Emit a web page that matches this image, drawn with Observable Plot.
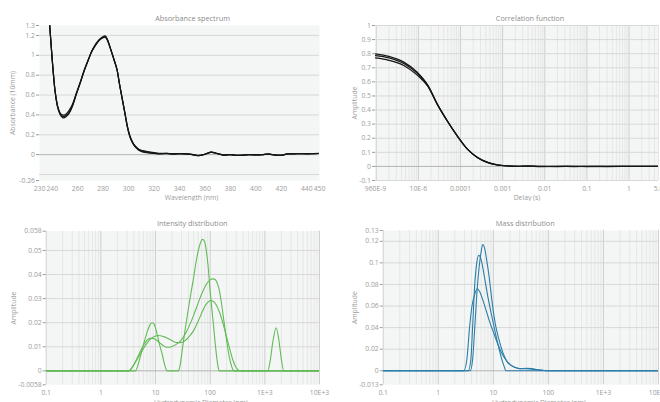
<!DOCTYPE html>
<html><head><meta charset="utf-8">
<script src="https://cdn.jsdelivr.net/npm/d3@7"></script>
<script src="https://cdn.jsdelivr.net/npm/@observablehq/plot@0.6"></script>
<style>
body{margin:0;background:#fff;}
#wrap{position:relative;width:660px;height:402px;overflow:hidden;background:#fff;}
#wrap > div{position:absolute;}
</style></head><body><div id="wrap"></div>
<script>
// ---------- Absorbance spectrum ----------
const absWavelength = [238,240,242,244,246,248,249,251,253,256,259,262,265,268,271,274,277,280,281.5,283,286,289,291,293,295,297,299,301,303,305,308,311,315,320,325,330,335,340,345,350,355,360,365,370,375,380,385,390,395,400,405,410,415,420,425,430,435,440,445,450];
const absScan1 = [1.30,0.95,0.66,0.49,0.41,0.375,0.37,0.385,0.41,0.49,0.61,0.72,0.84,0.94,1.04,1.11,1.16,1.19,1.195,1.17,1.06,0.94,0.85,0.70,0.56,0.42,0.28,0.18,0.12,0.08,0.045,0.028,0.018,0.012,0.008,0.011,0.006,0.010,0.007,0.0,-0.010,0.004,0.025,0.010,-0.004,0.0,-0.008,-0.005,0.0,-0.003,0.0,0.006,-0.004,-0.006,0.008,0.008,0.010,0.008,0.010,0.012];
const absScan2 = [1.30,0.96,0.67,0.50,0.425,0.40,0.398,0.41,0.44,0.51,0.62,0.73,0.845,0.945,1.035,1.10,1.15,1.178,1.183,1.16,1.055,0.935,0.85,0.70,0.565,0.43,0.29,0.19,0.13,0.09,0.055,0.04,0.03,0.02,0.012,0.013,0.008,0.011,0.008,0.002,-0.008,0.005,0.026,0.011,-0.003,0.001,-0.007,-0.004,0.001,-0.002,0.001,0.007,-0.003,-0.005,0.009,0.009,0.011,0.009,0.011,0.013];
const absScan3 = [1.30,0.955,0.665,0.495,0.415,0.385,0.382,0.395,0.42,0.50,0.615,0.725,0.842,0.942,1.038,1.105,1.155,1.185,1.19,1.165,1.058,0.938,0.85,0.70,0.562,0.425,0.285,0.185,0.125,0.085,0.05,0.034,0.024,0.016,0.010,0.012,0.007,0.010,0.007,0.001,-0.009,0.004,0.024,0.010,-0.004,0.0,-0.008,-0.005,0.0,-0.003,0.0,0.006,-0.004,-0.006,0.008,0.008,0.010,0.008,0.010,0.012];
const absYTicks = [-0.26,0,0.2,0.4,0.6,0.8,1,1.2,1.3];
const absYGrid = [-0.2,0,0.2,0.4,0.6,0.8,1,1.2];
const absXTicks = [230,240,260,280,300,320,340,360,380,400,420,440,450];
const absXLabels = ["230","240","260","280","300","320","340","360","380","400","420","440","450"];

// ---------- Correlation function ----------
const corrDelay = [9.6e-7,2e-6,4.5e-6,9.4e-6,1.7e-5,2.8e-5,4.8e-5,8.3e-5,1.44e-4,2.5e-4,4.3e-4,7.4e-4,1.3e-3,2.5e-3,4e-3,8e-3,0.02,0.05,0.1,0.3,1,5];
const corrRun1 = [0.799,0.781,0.740,0.668,0.574,0.444,0.326,0.219,0.125,0.065,0.030,0.011,0.004,0.001,0.003,0.0,0.001,-0.001,0.0,0.001,0.0,0.0];
const corrRun2 = [0.786,0.770,0.730,0.660,0.570,0.443,0.325,0.218,0.124,0.064,0.029,0.011,0.003,0.0,0.002,-0.001,0.0,0.0,-0.001,0.0,0.001,0.0];
const corrRun3 = [0.770,0.753,0.716,0.648,0.566,0.440,0.324,0.217,0.124,0.064,0.029,0.010,0.003,0.001,0.002,0.0,-0.001,0.001,0.0,-0.001,0.0,0.0];
const corrYTicks = [-0.1,0,0.1,0.2,0.3,0.4,0.5,0.6,0.7,0.8,0.9,1];
const corrXTicks = [9.6e-7,1e-5,1e-4,1e-3,0.01,0.1,1,5];
const corrXLabels = ["960E-9","10E-6","0.0001","0.001","0.01","0.1","1","5.0"];

// ---------- Intensity distribution ----------
const intDiamA = [0.1,4.3,5,5.5,6,7,8,8.7,9.5,10.5,12,13.2,14.5,16.3,26,28,31,35,40,45,50,55,60,66,72,78,85,92,100,108,116,124,132,140,146,1130,1250,1400,1610,1800,2000,2220,10000];
const intA = [0,0,0.004,0.0075,0.0108,0.016,0.0193,0.020,0.0193,0.016,0.0105,0.007,0.003,0,0,0.002,0.009,0.0175,0.026,0.033,0.039,0.045,0.0495,0.053,0.0546,0.054,0.050,0.043,0.033,0.025,0.018,0.011,0.0055,0.0015,0,0,0.004,0.012,0.0179,0.013,0.005,0,0];
const intDiamB = [0.1,3.3,4,5,6,7,8,9,10,12,14,16,18,21,25,30,36,43,50,60,70,80,90,100,110,120,130,145,160,180,200,225,250,270,10000];
const intB = [0,0,0.0025,0.007,0.0105,0.0128,0.0135,0.0134,0.013,0.0116,0.0104,0.0098,0.0098,0.0103,0.0113,0.013,0.0158,0.0195,0.0232,0.028,0.032,0.0348,0.0368,0.0378,0.0382,0.0381,0.0372,0.034,0.0285,0.020,0.0125,0.0055,0.0015,0,0];
const intDiamC = [0.1,3.2,4,5,6,7,8,9,10,11.5,13,15,18,21,25,30,36,43,50,60,70,80,90,101,115,130,150,175,200,230,260,300,330,360,10000];
const intC = [0,0,0.0025,0.0062,0.0092,0.0115,0.0131,0.014,0.0145,0.0147,0.0145,0.014,0.0131,0.0123,0.0117,0.0118,0.0128,0.0147,0.0168,0.0205,0.024,0.0268,0.0284,0.0292,0.0288,0.0272,0.024,0.019,0.014,0.0088,0.0045,0.0013,0.0003,0,0];
const intYTicks = [-0.0058,0,0.01,0.02,0.03,0.04,0.05,0.058];
const intYGrid = [0,0.01,0.02,0.03,0.04,0.05];

// ---------- Mass distribution ----------
const massDiamA = [0.1,3.8,4.2,4.6,5,5.5,6,6.4,7,7.5,8.3,9,10,11,12.5,14,16,18,21,25,30,40,50,60,80,100,10000];
const massA = [0,0,0.01,0.04,0.07,0.095,0.11,0.117,0.113,0.104,0.089,0.074,0.055,0.042,0.030,0.021,0.013,0.008,0.005,0.003,0.002,0.002,0.0015,0.001,0.0003,0,0];
const massDiamB = [0.1,3.5,3.9,4.2,4.6,5,5.45,6,7,8,9,10,11,12.5,14,15.5,17,10000];
const massB = [0,0,0.01,0.04,0.08,0.10,0.107,0.103,0.085,0.068,0.055,0.044,0.034,0.022,0.012,0.005,0,0];
const massDiamC = [0.1,2.9,3.3,3.7,4.1,4.6,5.1,5.7,6.5,7.5,8.5,10,12,14,17,20,25,30,40,50,60,80,100,10000];
const massC = [0,0,0.01,0.04,0.06,0.071,0.076,0.073,0.065,0.055,0.046,0.036,0.025,0.017,0.010,0.006,0.003,0.002,0.0022,0.002,0.0012,0.0004,0,0];
const massYTicks = [-0.013,0,0.02,0.04,0.06,0.08,0.1,0.12,0.13];
const massYGrid = [0,0.02,0.04,0.06,0.08,0.1,0.12];

const sizeXTicks = [0.1,1,10,100,1000,10000];
const sizeXLabels = ["0.1","1","10","100","1E+3","10E+3"];

// ---------- styling ----------
const BG = "#f4f5f5", GRID = "#d8d8d8", ZERO = "#b4b4b4", MINOR = "#e6e6e6", MAJOR = "#cfcfcf", TXT = "#9c9c9c", TITLE = "#8c8c8c";
const fmt = d => String(d);

function rows(xs, ys, series) { return xs.map((x, i) => ({x, y: ys[i], s: series})); }

function panel(o) {
  const marks = [Plot.frame({fill: BG, stroke: null})];
  if (o.xType === "log") {
    const all = d3.scaleLog().domain(o.xDomain).ticks();
    const major = all.filter(v => Math.abs(Math.log10(v) - Math.round(Math.log10(v))) < 1e-9);
    const minor = all.filter(v => !major.includes(v));
    marks.push(Plot.ruleX(minor, {stroke: MINOR, strokeWidth: 1}));
    marks.push(Plot.ruleX(major, {stroke: MAJOR, strokeWidth: 1}));
  }
  marks.push(Plot.ruleY(o.yGrid.filter(v => v !== 0), {stroke: GRID}));
  marks.push(Plot.ruleY([0], {stroke: ZERO}));
  marks.push(Plot.axisY(o.yTicks, {tickSize: 3, tickPadding: 1.5, tickFormat: fmt, color: TXT, label: null}));
  const xTickRows = o.xTicks.map((t, i) => ({t, label: o.xLabels[i]}));
  marks.push(Plot.text(xTickRows, {x: "t", text: "label", frameAnchor: "bottom", dy: 8.3, textAnchor: "middle", lineAnchor: "middle", fill: TXT, fontSize: 6.8}));
  for (const s of o.series) {
    marks.push(Plot.line(s, {x: "x", y: "y", stroke: o.stroke, strokeWidth: o.strokeWidth, curve: "monotone-x", clip: true}));
  }
  marks.push(Plot.text([o.title], {frameAnchor: "top", dx: o.titleDx, dy: o.titleDy, textAnchor: "middle", lineAnchor: "middle", fill: TITLE, fontSize: 7.3}));
  marks.push(Plot.text([o.xTitle], {frameAnchor: "bottom", dx: o.xTitleDx, dy: o.xTitleDy, textAnchor: "middle", lineAnchor: "middle", fill: TXT, fontSize: 6.8}));
  marks.push(Plot.text([o.yTitle], {frameAnchor: "left", dx: o.yTitleDx, rotate: -90, textAnchor: "middle", lineAnchor: "middle", fill: TXT, fontSize: 6.8}));
  const svg = Plot.plot({
    width: o.width, height: o.height,
    marginLeft: o.m[0], marginRight: o.m[1], marginTop: o.m[2], marginBottom: o.m[3],
    x: {type: o.xType, domain: o.xDomain, axis: null},
    y: {domain: o.yDomain},
    style: {fontFamily: "'Open Sans', sans-serif", fontSize: "6.8px", background: "transparent", color: TXT, maxWidth: "none"},
    marks
  });
  const div = document.createElement("div");
  div.style.left = o.left + "px"; div.style.top = o.top + "px";
  div.appendChild(svg);
  document.getElementById("wrap").appendChild(div);
}

panel({
  left: 0, top: 0, width: 330, height: 201, m: [39, 11, 25, 21],
  xType: "linear", xDomain: [230, 450], yDomain: [-0.26, 1.3],
  yTicks: absYTicks, yGrid: absYGrid, xTicks: absXTicks, xLabels: absXLabels,
  series: [rows(absWavelength, absScan2, 2), rows(absWavelength, absScan3, 3), rows(absWavelength, absScan1, 1)],
  stroke: "#151515", strokeWidth: 1.2,
  title: "Absorbance spectrum", titleDx: 13, titleDy: -6.7,
  xTitle: "Wavelength (nm)", xTitleDx: 12, xTitleDy: 17,
  yTitle: "Absorbance (10mm)", yTitleDx: -26.7
});

panel({
  left: 330, top: 0, width: 345, height: 201, m: [45, 17, 25, 21],
  xType: "log", xDomain: [9.6e-7, 5], yDomain: [-0.1, 1],
  yTicks: corrYTicks, yGrid: corrYTicks, xTicks: corrXTicks, xLabels: corrXLabels,
  series: [rows(corrDelay, corrRun1, 1), rows(corrDelay, corrRun2, 2), rows(corrDelay, corrRun3, 3)],
  stroke: "#151515", strokeWidth: 1.2,
  title: "Correlation function", titleDx: 13, titleDy: -6.7,
  xTitle: "Delay (s)", xTitleDx: 10, xTitleDy: 17,
  yTitle: "Amplitude", yTitleDx: -21
});

panel({
  left: 0, top: 200, width: 330, height: 212, m: [45.7, 11, 30.7, 27.7],
  xType: "log", xDomain: [0.1, 10000], yDomain: [-0.0058, 0.058],
  yTicks: intYTicks, yGrid: intYGrid, xTicks: sizeXTicks, xLabels: sizeXLabels,
  series: [rows(intDiamA, intA, 1), rows(intDiamB, intB, 2), rows(intDiamC, intC, 3)],
  stroke: "#62bb57", strokeWidth: 1.1,
  title: "Intensity distribution", titleDx: 9.4, titleDy: -7.4,
  xTitle: "Hydrodynamic Diameter (nm)", xTitleDx: 18, xTitleDy: 18,
  yTitle: "Amplitude", yTitleDx: -32.4
});

panel({
  left: 330, top: 200, width: 345, height: 212, m: [52.7, 17, 30, 27.7],
  xType: "log", xDomain: [0.1, 10000], yDomain: [-0.013, 0.13],
  yTicks: massYTicks, yGrid: massYGrid, xTicks: sizeXTicks, xLabels: sizeXLabels,
  series: [rows(massDiamA, massA, 1), rows(massDiamB, massB, 2), rows(massDiamC, massC, 3)],
  stroke: "#2a7da8", strokeWidth: 1.1,
  title: "Mass distribution", titleDx: 4.4, titleDy: -7,
  xTitle: "Hydrodynamic Diameter (nm)", xTitleDx: 18, xTitleDy: 18,
  yTitle: "Amplitude", yTitleDx: -28.7
});
</script></body></html>
